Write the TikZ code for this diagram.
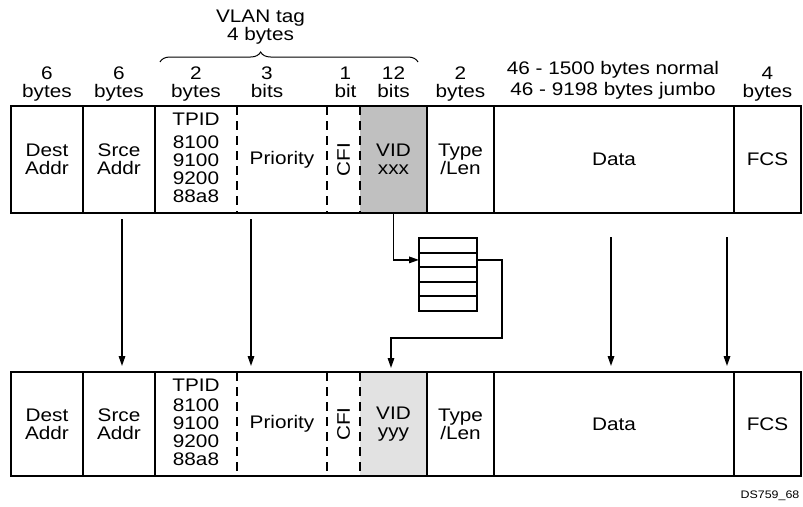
\documentclass[tikz,border=0pt]{standalone}
\usepackage{fontspec}
\setmainfont[FakeStretch=1.14]{Liberation Sans}
\usetikzlibrary{arrows.meta,decorations.pathreplacing}
\definecolor{vidtop}{HTML}{C0C0C0}
\definecolor{vidbot}{HTML}{E2E2E2}
\begin{document}
\begin{tikzpicture}[x=1pt,y=-1pt,
  every node/.style={inner sep=0pt,outer sep=0pt},
  lbl/.style={font=\fontsize{18.2}{18}\selectfont,align=center},
  tcell/.style={lbl,minimum height=107pt},
  bcell/.style={lbl,minimum height=104pt},
  frame/.style={line width=2pt},
  dsep/.style={line width=1.2pt,dash pattern=on 9pt off 6pt},
  conn/.style={line width=1.6pt,-{Triangle[length=10pt,width=6.5pt]}},
  qrow/.style={draw,line width=2pt,minimum width=58pt,minimum height=14.6pt},
  hdr/.style={lbl,anchor=north},
]
\path[use as bounding box,fill=white] (0,0) rectangle (803,506);

% ---- top frame ----
\node[tcell,minimum width=72pt] (dest1) at (47,159.5) {Dest\\Addr};
\node[tcell,minimum width=72pt] (srce1) at (119,159.5) {Srce\\Addr};
\node[tcell,minimum width=82pt] (tpid1) at (196,159.5) {};
\node[tcell,minimum width=90pt] (prio1) at (282,159.5) {Priority};
\node[tcell,minimum width=33pt] (cfi1) at (343.5,159.5) {};
\node[tcell,minimum width=67pt,fill=vidtop] (vid1) at (393.5,159.5) {VID\\xxx};
\node[tcell,minimum width=67pt] (type1) at (460.5,159.5) {Type\\/Len};
\node[tcell,minimum width=240pt] (data1) at (614,159.5) {Data};
\node[tcell,minimum width=67pt] (fcs1) at (767.5,159.5) {FCS};
\node[lbl,anchor=north] (tpidt1) at ([yshift=-7pt]tpid1.north) {TPID\\[5pt]8100\\9100\\9200\\88a8};
\node[lbl,rotate=90] (cfit1) at (cfi1.center) {CFI};

\draw[frame] (dest1.north west) rectangle (fcs1.south east);
\foreach \c in {dest1,srce1,vid1,type1,data1}
  \draw[frame] (\c.north east) -- (\c.south east);
\foreach \c in {tpid1,prio1,cfi1}
  \draw[dsep] (\c.north east) -- (\c.south east);

% ---- bottom frame ----
\node[bcell,minimum width=72pt] (dest2) at (47,424) {Dest\\Addr};
\node[bcell,minimum width=72pt] (srce2) at (119,424) {Srce\\Addr};
\node[bcell,minimum width=82pt] (tpid2) at (196,424) {};
\node[bcell,minimum width=90pt] (prio2) at (282,424) {Priority};
\node[bcell,minimum width=33pt] (cfi2) at (343.5,424) {};
\node[bcell,minimum width=67pt,fill=vidbot] (vid2) at (393.5,424) {VID\\yyy};
\node[bcell,minimum width=67pt] (type2) at (460.5,424) {Type\\/Len};
\node[bcell,minimum width=240pt] (data2) at (614,424) {Data};
\node[bcell,minimum width=67pt] (fcs2) at (767.5,424) {FCS};
\node[lbl,anchor=north] (tpidt2) at ([yshift=-7pt]tpid2.north) {TPID\\[2pt]8100\\9100\\9200\\88a8};
\node[lbl,rotate=90] (cfit2) at (cfi2.center) {CFI};

\draw[frame] (dest2.north west) rectangle (fcs2.south east);
\foreach \c in {dest2,srce2,vid2,type2,data2}
  \draw[frame] (\c.north east) -- (\c.south east);
\foreach \c in {tpid2,prio2,cfi2}
  \draw[dsep] (\c.north east) -- (\c.south east);

% ---- headers ----
\node[hdr] (h1) at ([yshift=39.3pt]dest1.north) {6\\bytes};
\node[hdr] (h2) at ([yshift=39.3pt]srce1.north) {6\\bytes};
\node[hdr] (h3) at ([yshift=39.3pt]tpid1.north) {2\\bytes};
\node[hdr] (h4) at ([xshift=-15pt,yshift=39.3pt]prio1.north) {3\\bits};
\node[hdr] (h5) at ([xshift=2pt,yshift=39.3pt]cfi1.north) {1\\bit};
\node[hdr] (h6) at ([yshift=39.3pt]vid1.north) {12\\bits};
\node[hdr] (h7) at ([yshift=39.3pt]type1.north) {2\\bytes};
\node[hdr,font=\fontsize{18.2}{21}\selectfont] (h8) at ([xshift=-1pt,yshift=44.5pt]data1.north) {46 - 1500 bytes normal\\46 - 9198 bytes jumbo};
\node[hdr] (h9) at ([yshift=39.3pt]fcs1.north) {4\\bytes};
\node[hdr,font=\fontsize{18.2}{17.5}\selectfont] (vlan) at (260.5,10) {VLAN tag\\4 bytes};
\draw[line width=1pt,decorate,decoration={brace,amplitude=10pt,aspect=0.39}] (160,62) -- (418,62);

% ---- queue ----
\node[qrow] (q1) at (448,245.3) {};
\node[qrow] (q2) at (448,259.9) {};
\node[qrow] (q3) at (448,274.5) {};
\node[qrow] (q4) at (448,289.1) {};
\node[qrow] (q5) at (448,303.7) {};

% ---- connectors ----
\coordinate (s1) at (122,219);
\coordinate (s2) at (251,219);
\coordinate (s3) at (611,237);
\coordinate (s4) at (727,237);
\draw[conn,shorten >=6pt] (s1) -- (s1 |- srce2.north);
\draw[conn,shorten >=6pt] (s2) -- (s2 |- prio2.north);
\draw[conn,shorten >=6pt] (s3) -- (s3 |- data2.north);
\draw[conn,shorten >=6pt] (s4) -- (s4 |- data2.north);
\draw[conn] (vid1.south) |- (q2.west);
\coordinate (r1) at (502,338);
\draw[conn,shorten >=4pt] (q2.east) -| (r1) -| ([xshift=-2.5pt]vid2.north);

\node[font=\fontsize{10.9}{12}\selectfont] (ds) at (770,496) {DS759\_68};
\end{tikzpicture}
\end{document}
